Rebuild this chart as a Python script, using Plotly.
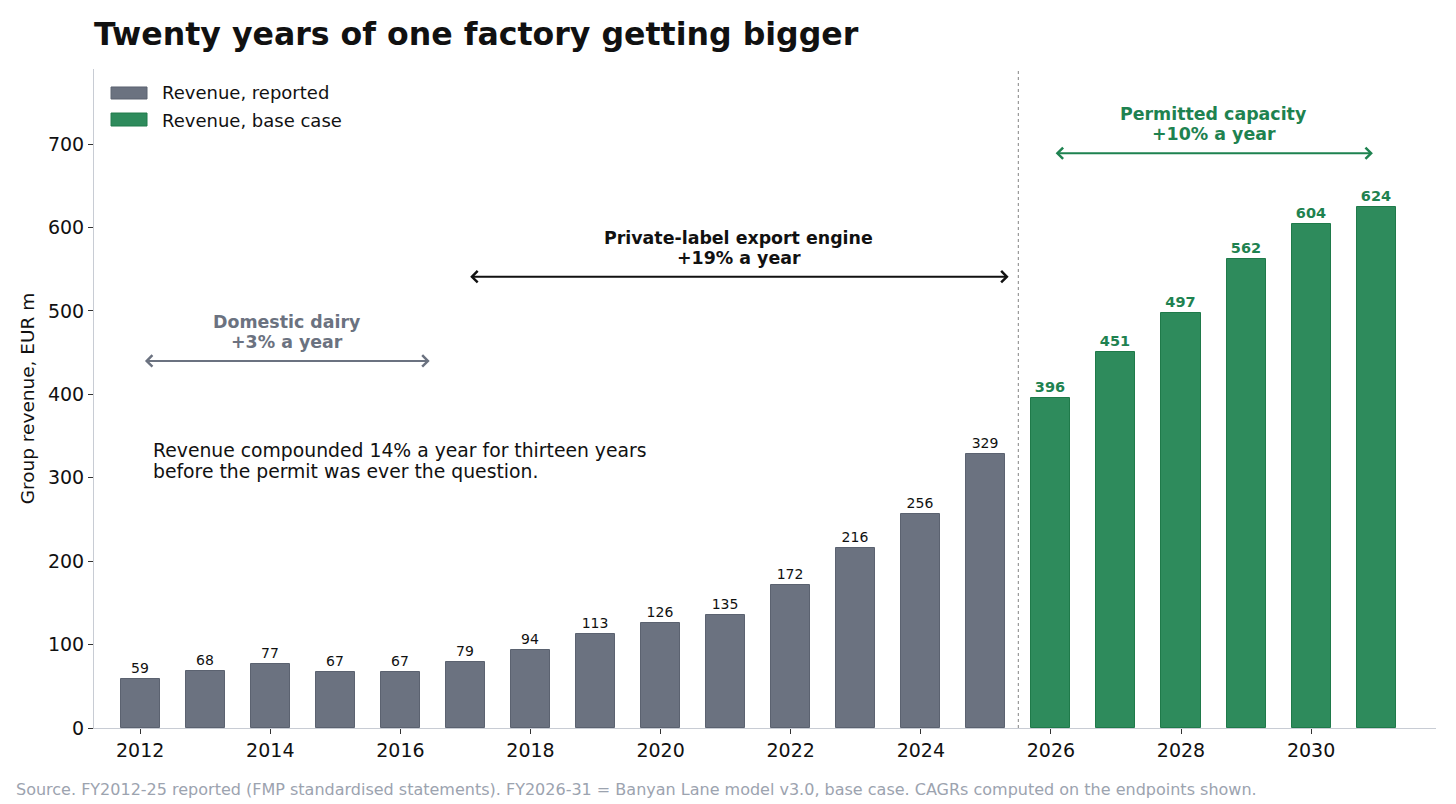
import plotly.graph_objects as go

# reported and base-case revenue, EUR m
years_reported = list(range(2012, 2026))
revenue_reported = [59, 68, 77, 67, 67, 79, 94, 113, 126, 135, 172, 216, 256, 329]

years_base = list(range(2026, 2032))
revenue_base = [396, 451, 497, 562, 604, 624]

x_ticks = [2012, 2014, 2016, 2018, 2020, 2022, 2024, 2026, 2028, 2030]
y_ticks = [0, 100, 200, 300, 400, 500, 600, 700]

GREY = '#6b7280'
GREEN = '#2e8b5c'
GREEN_TXT = '#1e8250'
FONT = 'DejaVu Sans'

fig = go.Figure()

fig.add_trace(go.Bar(
    x=years_reported, y=revenue_reported, width=0.6,
    name='Revenue, reported',
    marker=dict(color=GREY, line=dict(color='#5b6270', width=1)),
    text=revenue_reported, textposition='outside',
    textfont=dict(family=FONT, size=14, color='#111111'),
    cliponaxis=False,
))

fig.add_trace(go.Bar(
    x=years_base, y=revenue_base, width=0.6,
    name='Revenue, base case',
    marker=dict(color=GREEN, line=dict(color='#1f7a4a', width=1)),
    text=[f'<b>{v}</b>' for v in revenue_base], textposition='outside',
    textfont=dict(family=FONT, size=14.5, color=GREEN_TXT),
    cliponaxis=False,
))

# divider between reported and forecast
fig.add_shape(type='line', x0=2025.5, x1=2025.5, y0=0, y1=1, xref='x', yref='paper',
              line=dict(color='#999999', width=1.2, dash='dot'))

# legend drawn by hand so the swatches are wide rectangles
legend_items = [('Revenue, reported', GREY, '#5b6270', 0.9727, 0.9545, 0.9636),
                ('Revenue, base case', GREEN, '#1f7a4a', 0.9332, 0.9135, 0.9226)]
for name, fill, edge, y_top, y_bot, y_txt in legend_items:
    fig.add_shape(type='rect', xref='paper', yref='paper', x0=0.0127, x1=0.0395,
                  y0=y_bot, y1=y_top, fillcolor=fill, line=dict(color=edge, width=1))
    fig.add_annotation(x=0.0492, y=y_txt, xref='paper', yref='paper', xanchor='left',
                       yanchor='middle', text=name, showarrow=False,
                       font=dict(family=FONT, size=18, color='#111111'))

# period arrows and two-line labels
periods = [
    (2012.05, 2016.45, 440, 'Domestic dairy', '+3% a year', GREY),
    (2017.05, 2025.35, 541, 'Private-label export engine', '+19% a year', '#111111'),
    (2026.05, 2030.95, 689, 'Permitted capacity', '+10% a year', GREEN_TXT),
]
for x0, x1, yv, line1, line2, col in periods:
    fig.add_annotation(x=x1, y=yv, ax=x0, ay=yv, xref='x', yref='y', axref='x', ayref='y',
                       showarrow=True, arrowside='end+start', arrowhead=4, arrowsize=1.1,
                       arrowwidth=2, arrowcolor=col, text='')
    for txt, dy in ((line1, 47), (line2, 23)):
        fig.add_annotation(x=(x0 + x1) / 2, y=yv + dy, xref='x', yref='y', yanchor='middle',
                           text=f'<b>{txt}</b>', showarrow=False,
                           font=dict(family=FONT, size=17.4, color=col))

note_lines = ['Revenue compounded 14% a year for thirteen years',
              'before the permit was ever the question.']
for txt, yv in zip(note_lines, [333, 308]):
    fig.add_annotation(x=2012.17, y=yv, xref='x', yref='y', xanchor='left', yanchor='middle',
                       text=txt, showarrow=False, font=dict(family=FONT, size=18.8, color='#111111'))

fig.add_annotation(x=-0.0596, y=-0.0926, xref='paper', yref='paper', xanchor='left',
                   yanchor='middle', showarrow=False,
                   text='Source. FY2012-25 reported (FMP standardised statements). FY2026-31 = Banyan Lane model v3.0, base case. CAGRs computed on the endpoints shown.',
                   font=dict(family=FONT, size=16, color='#9ca3af'))

fig.update_layout(
    width=1456, height=804,
    margin=dict(l=94, r=20, t=69, b=76),
    plot_bgcolor='white', paper_bgcolor='white',
    font=dict(family=FONT, size=18, color='#111111'),
    title=dict(text='<b>Twenty years of one factory getting bigger</b>', x=94 / 1456, xanchor='left',
               y=1 - 34 / 804, yanchor='middle', font=dict(family=FONT, size=31.6, color='#111111')),
    showlegend=False,
    bargap=0,
)

fig.update_xaxes(range=[2011.29, 2031.92], tickvals=x_ticks, ticks='outside', ticklen=5,
                 tickcolor='#333333', showgrid=False, zeroline=False, showline=True,
                 linecolor='#c8ccd4', linewidth=1, tickfont=dict(size=19))
fig.update_yaxes(range=[0, 790], tickvals=y_ticks, ticks='outside', ticklen=5,
                 tickcolor='#333333', showgrid=False, zeroline=False, showline=True,
                 linecolor='#c8ccd4', linewidth=1, tickfont=dict(size=19),
                 title=dict(text='Group revenue, EUR m', font=dict(size=18.5), standoff=8))

fig.write_html('out.html', config={'displayModeBar': False},
               post_script="document.body.style.margin='0';")
